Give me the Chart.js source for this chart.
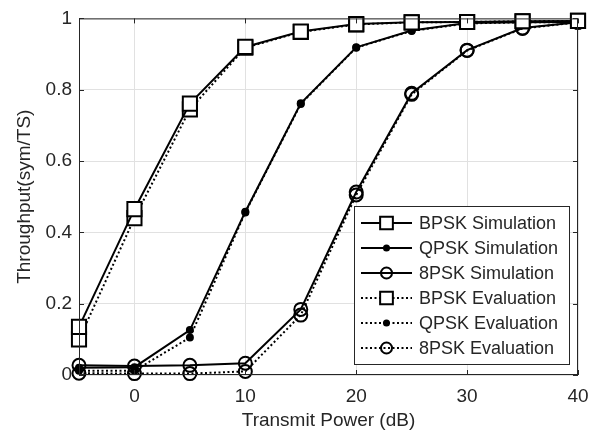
<!DOCTYPE html>
<html>
<head>
<meta charset="utf-8">
<script src="https://cdn.jsdelivr.net/npm/chart.js@4.4.1/dist/chart.umd.min.js"></script>
<style>
  html, body { margin: 0; padding: 0; background: #fff; }
</style>
</head>
<body>
<canvas id="c" width="602" height="438"></canvas>
<script>
// Throughput vs transmit power, simulation against evaluation
const powerDb = [-5, 0, 5, 10, 15, 20, 25, 30, 35, 40];

const bpskSim  = [0.135, 0.465, 0.761, 0.920, 0.963, 0.984, 0.989, 0.990, 0.992, 0.993];
const qpskSim  = [0.020, 0.022, 0.126, 0.458, 0.762, 0.919, 0.966, 0.987, 0.989, 0.990];
const psk8Sim  = [0.027, 0.025, 0.027, 0.033, 0.184, 0.513, 0.790, 0.911, 0.973, 0.989];
const bpskEval = [0.100, 0.440, 0.745, 0.918, 0.962, 0.983, 0.989, 0.990, 0.992, 0.993];
const qpskEval = [0.012, 0.012, 0.105, 0.456, 0.760, 0.918, 0.965, 0.986, 0.989, 0.990];
const psk8Eval = [0.005, 0.004, 0.004, 0.010, 0.168, 0.505, 0.787, 0.910, 0.972, 0.989];

const seriesLabels = [
  'BPSK Simulation', 'QPSK Simulation', '8PSK Simulation',
  'BPSK Evaluation', 'QPSK Evaluation', '8PSK Evaluation'
];

const xTickValues = [0, 10, 20, 30, 40];
const yTickValues = [0, 0.2, 0.4, 0.6, 0.8, 1];

const AXIS_COLOR = '#262626';
const GRID_COLOR = '#e1e1e1';
const FONT = 'Liberation Sans, Arial, Helvetica, sans-serif';

const markers = {
  square: { pointStyle: 'rect', pointRadius: 10, pointBackgroundColor: '#fff' },
  dot:    { pointStyle: 'circle', pointRadius: 3, pointBackgroundColor: '#000' },
  circle: { pointStyle: 'circle', pointRadius: 6.5, pointBackgroundColor: 'rgba(0,0,0,0)' },
};

function series(label, values, marker, dotted) {
  return {
    label,
    data: powerDb.map((x, i) => ({ x, y: values[i] })),
    borderColor: '#000',
    borderWidth: 2,
    borderDash: dotted ? [2, 2.5] : [],
    pointBorderColor: '#000',
    pointBorderWidth: 2,
    pointHoverRadius: markers[marker].pointRadius,
    ...markers[marker],
    tension: 0,
    clip: false,
  };
}

const datasets = [
  series(seriesLabels[0], bpskSim, 'square', false),
  series(seriesLabels[1], qpskSim, 'dot', false),
  series(seriesLabels[2], psk8Sim, 'circle', false),
  series(seriesLabels[3], bpskEval, 'square', true),
  series(seriesLabels[4], qpskEval, 'dot', true),
  series(seriesLabels[5], psk8Eval, 'circle', true),
];

// box round the axes and inward ticks on all four sides
const boxAxes = {
  id: 'boxAxes',
  afterDraw(chart) {
    const { ctx, chartArea: a, scales: { x, y } } = chart;
    const len = 5;
    ctx.save();
    ctx.strokeStyle = AXIS_COLOR;
    ctx.lineWidth = 1;
    ctx.setLineDash([]);
    ctx.strokeRect(a.left + 0.5, a.top + 0.5, a.width - 1, a.height - 1);
    ctx.beginPath();
    xTickValues.forEach(v => {
      const px = Math.round(x.getPixelForValue(v)) + 0.5;
      ctx.moveTo(px, a.bottom); ctx.lineTo(px, a.bottom - len);
      ctx.moveTo(px, a.top); ctx.lineTo(px, a.top + len);
    });
    yTickValues.forEach(v => {
      const py = Math.round(y.getPixelForValue(v)) + 0.5;
      ctx.moveTo(a.left, py); ctx.lineTo(a.left + len, py);
      ctx.moveTo(a.right, py); ctx.lineTo(a.right - len, py);
    });
    ctx.stroke();
    ctx.restore();
  }
};

// legend inside the axes, lower right
const insideLegend = {
  id: 'insideLegend',
  afterDraw(chart) {
    const { ctx, chartArea: a } = chart;
    const boxW = 215, boxH = 158;
    const left = a.right - 9 - boxW;
    const top = a.bottom - 11 - boxH;
    const rowH = 25;
    ctx.save();
    ctx.fillStyle = '#fff';
    ctx.fillRect(left, top, boxW, boxH);
    ctx.strokeStyle = AXIS_COLOR;
    ctx.lineWidth = 1;
    ctx.strokeRect(Math.round(left) + 0.5, Math.round(top) + 0.5, boxW, boxH);
    ctx.font = '18px ' + FONT;
    ctx.textBaseline = 'middle';
    chart.data.datasets.forEach((ds, i) => {
      const cy = top + 17 + i * rowH;
      const x0 = left + 7, x1 = left + 58, mx = (x0 + x1) / 2;
      ctx.strokeStyle = '#000';
      ctx.lineWidth = ds.borderWidth;
      ctx.setLineDash(ds.borderDash);
      ctx.beginPath();
      ctx.moveTo(x0, cy); ctx.lineTo(x1, cy);
      ctx.stroke();
      ctx.setLineDash([]);
      ctx.fillStyle = ds.pointBackgroundColor;
      ctx.lineWidth = ds.pointBorderWidth;
      Chart.helpers.drawPoint(ctx, {
        pointStyle: ds.pointStyle,
        radius: ds.pointStyle === 'rect' ? ds.pointRadius * 0.9 : ds.pointRadius * 0.85,
        rotation: 0,
        borderWidth: ds.pointBorderWidth,
      }, mx, cy);
      ctx.fillStyle = AXIS_COLOR;
      ctx.fillText(ds.label, left + 65, cy + 1);
    });
    ctx.restore();
  }
};

new Chart(document.getElementById('c'), {
  type: 'line',
  data: { datasets },
  options: {
    responsive: false,
    animation: false,
    events: [],
    layout: { padding: { left: 0, right: 24, top: 11, bottom: 0 } },
    plugins: { legend: { display: false }, tooltip: { enabled: false } },
    scales: {
      x: {
        type: 'linear',
        min: -5,
        max: 40,
        afterBuildTicks: s => { s.ticks = xTickValues.map(value => ({ value })); },
        afterFit: s => { s.height = 63; },
        border: { display: false },
        grid: { color: GRID_COLOR, drawTicks: false },
        ticks: { color: AXIS_COLOR, padding: 10, maxRotation: 0, font: { family: FONT, size: 19 } },
        title: {
          display: true, text: 'Transmit Power (dB)', color: AXIS_COLOR,
          padding: { top: 0, bottom: 6 }, font: { family: FONT, size: 19 }
        },
      },
      y: {
        type: 'linear',
        min: 0,
        max: 1,
        afterBuildTicks: s => { s.ticks = yTickValues.map(value => ({ value })); },
        afterFit: s => { s.width = 79; },
        border: { display: false },
        grid: { color: GRID_COLOR, drawTicks: false },
        ticks: { color: AXIS_COLOR, padding: 7, font: { family: FONT, size: 19 }, callback: v => String(v) },
        title: {
          display: true, text: 'Throughput(sym/TS)', color: AXIS_COLOR,
          padding: { top: 13, bottom: 0 }, font: { family: FONT, size: 19 }
        },
      },
    },
  },
  plugins: [boxAxes, insideLegend],
});
</script>
</body>
</html>
